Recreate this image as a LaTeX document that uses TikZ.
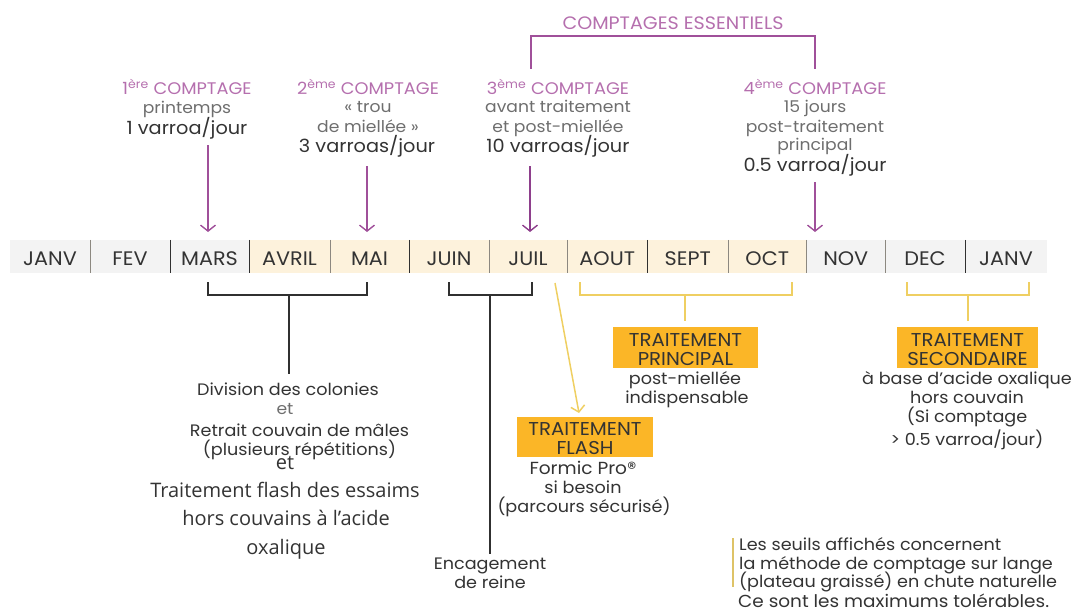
\documentclass[tikz,border=0pt]{standalone}
\usepackage{fontspec}
\setmainfont[FakeStretch=1.06]{Poppins}
\newfontfamily\altf{Open Sans}
\definecolor{purp}{HTML}{A0509A}
\definecolor{purpd}{HTML}{8E3F8C}
\definecolor{purptxt}{HTML}{B56FAE}
\definecolor{greytxt}{HTML}{6E6E6E}
\definecolor{darktxt}{HTML}{333333}
\definecolor{bandgrey}{HTML}{F3F3F3}
\definecolor{bandcream}{HTML}{FDF2DC}
\definecolor{orangebox}{HTML}{FBB627}
\definecolor{yell}{HTML}{EFCF62}
\definecolor{sepdark}{HTML}{303030}
\definecolor{seplight}{HTML}{8C8880}
\newcommand{\fsz}[2]{\fontsize{#1}{#2}\selectfont}
\newcommand{\sups}[1]{\textsuperscript{#1}}
\newcommand{\lowr}{\rule{0pt}{17pt}}
\usetikzlibrary{arrows.meta}
\tikzset{
 x=1pt,y=-1pt,
 txt/.style={inner sep=0pt,anchor=base,align=center,text=darktxt,font=\fsz{16.6}{19}},
 head/.style={txt,text=purptxt,font=\fsz{16.8}{19}},
 sub/.style={txt,text=greytxt,font=\fsz{16.2}{19}},
 val/.style={txt,text=darktxt,font=\fsz{18.2}{19}},
 alt/.style={txt,font=\altf\fsz{20}{22}},
 month/.style={inner sep=0pt,minimum height=33pt,text height=18pt,text depth=0pt,text=darktxt,font=\fsz{19.6}{20}},
 greym/.style={month,fill=bandgrey},
 creamm/.style={month,fill=bandcream},
 box/.style={inner sep=0pt,fill=orangebox,text=darktxt,align=center,font=\fsz{18.6}{19}},
 seplt/.style={seplight,line width=1.2pt},
 sepdk/.style={sepdark,line width=1.4pt},
 parrow/.style={purp,line width=1.4pt,-{Straight Barb[length=6pt,width=15pt,line width=1.4pt]}},
 blk/.style={sepdark,line width=1.7pt},
 yl/.style={yell,line width=1.5pt},
}
\begin{document}
\begin{tikzpicture}
\useasboundingbox (0,0) rectangle (1072,610);
% months
\foreach \nm/\lab/\xa/\xb/\st in {
 m1/JANV/10/90/greym,m2/FEV/90/170/greym,m3/MARS/170/249/greym,
 m4/AVRIL/249/330/creamm,m5/MAI/330/409/creamm,m6/JUIN/409/489/creamm,m7/JUIL/489/567/creamm,
 m8/AOUT/567/647.5/creamm,m9/SEPT/647.5/728/creamm,m10/OCT/728/806.5/creamm,
 m11/NOV/806.5/885/greym,m12/DEC/885/965/greym,m13/JANV/965/1047/greym}{
 \pgfmathsetmacro{\cx}{(\xa+\xb)/2}
 \pgfmathsetmacro{\bw}{\xb-\xa}
 \node[\st,minimum width=\bw pt] (\nm) at (\cx,256.5) {\lab};
}
\foreach \a/\s in {m1/seplt,m2/sepdk,m3/sepdk,m4/seplt,m5/sepdk,m6/seplt,m7/seplt,m8/sepdk,m9/seplt,m10/seplt,m11/seplt,m12/sepdk}{
 \draw[\s] (\a.north east) -- (\a.south east);
}
% counts
\node[head] (h1) at (187,95) {1\sups{ère} COMPTAGE};
\node[sub] (s1) at (187,113.5) {printemps};
\node[val] (v1) at (187,134) {1 varroa/jour};
\node[head] (h2) at (368,95) {2\sups{ème} COMPTAGE};
\node[sub] (s2) at (368,112.5) {« trou};
\node[sub] (s2b) at (368,132) {de miellée »};
\node[val] (v2) at (367,153) {3 varroas/jour};
\node[head] (h3) at (558,95) {3\sups{ème} COMPTAGE};
\node[sub] (s3) at (558,113) {avant traitement};
\node[sub] (s3b) at (558,132) {et post-miellée};
\node[val] (v3) at (558,153) {10 varroas/jour};
\node[head] (h4) at (815,95) {4\sups{ème} COMPTAGE};
\node[sub] (s4) at (815,112.5) {15 jours};
\node[sub] (s4b) at (815,132) {post-traitement};
\node[sub] (s4c) at (815,150) {principal};
\node[val] (v4) at (815,171) {0.5 varroa/jour};
\node[head,font=\fsz{18}{19}] (ess) at (673,29.5) {COMPTAGES ESSENTIELS};
% purple arrows
\coordinate (a1) at (208,145); \coordinate (a1e) at (208,232);
\coordinate (a2) at (367,166); \coordinate (a2e) at (367,232);
\coordinate (a3) at (530,166); \coordinate (a3e) at (530,232);
\coordinate (a4) at (815,182); \coordinate (a4e) at (815,232);
\draw[parrow] (a1) -- (a1e);
\draw[parrow] (a2) -- (a2e);
\draw[parrow,line width=2pt,purpd] (a3) -- (a3e);
\draw[parrow] (a4) -- (a4e);
% top bracket
\coordinate (t1) at (531,69); \coordinate (t2) at (815,69);
\coordinate (t1u) at (531,36); \coordinate (t2u) at (815,36);
\draw[purp,line width=1.6pt] (t1) -- (t1u) -- (t2u) -- (t2);
% black brackets
\coordinate (b1a) at (208,282); \coordinate (b1b) at (367,282);
\coordinate (b1c) at (208,295); \coordinate (b1d) at (367,295);
\coordinate (b1t) at (289,295); \coordinate (b1s) at (289,374);
\draw[blk] (b1a) -- (b1c) -- (b1d) -- (b1b);
\draw[blk] (b1t) -- (b1s);
\coordinate (b2a) at (449,282); \coordinate (b2b) at (532,282);
\coordinate (b2c) at (449,295); \coordinate (b2d) at (532,295);
\coordinate (b2t) at (490,295); \coordinate (b2s) at (490,554);
\draw[blk] (b2a) -- (b2c) -- (b2d) -- (b2b);
\draw[blk] (b2t) -- (b2s);
% yellow brackets
\coordinate (y1a) at (580,282); \coordinate (y1b) at (792,282);
\coordinate (y1c) at (580,295); \coordinate (y1d) at (792,295);
\coordinate (y1t) at (685,295); \coordinate (y1s) at (685,321);
\draw[yl] (y1a) -- (y1c) -- (y1d) -- (y1b);
\draw[yl] (y1t) -- (y1s);
\coordinate (y2a) at (907,282); \coordinate (y2b) at (1029,282);
\coordinate (y2c) at (907,295); \coordinate (y2d) at (1029,295);
\coordinate (y2t) at (968,295); \coordinate (y2s) at (968,321);
\draw[yl] (y2a) -- (y2c) -- (y2d) -- (y2b);
\draw[yl] (y2t) -- (y2s);
\coordinate (y3a) at (555,283); \coordinate (y3b) at (579,413);
\draw[yell,line width=1.5pt,-{Straight Barb[length=6pt,width=14pt,line width=1.5pt]}] (y3a) -- (y3b);
% left column
\node[txt] (d1) at (288,395) {Division des colonies};
\node[sub] (d2) at (285,414) {et};
\node[txt] (d3) at (299.5,436) {Retrait couvain de mâles};
\node[txt] (d4) at (299.5,455) {(plusieurs répétitions)};
\node[alt] (d5) at (285,469) {et};
\node[alt] (d6) at (285,497) {Traitement flash des essaims};
\node[alt] (d7) at (286,525) {hors couvains à l’acide};
\node[alt] (d8) at (286,554) {oxalique};
\node[txt] (e1) at (490,569) {Encagement};
\node[txt] (e2) at (490,588) {de reine};
% treatment boxes
\node[box,minimum width=136pt,minimum height=40pt] (fb) at (585,437) {\lowr TRAITEMENT\\FLASH};
\node[txt,font=\fsz{17.5}{19}] (f1) at (583,474) {Formic Pro®};
\node[txt] (f2) at (583,493) {si besoin};
\node[txt] (f3) at (584,512) {(parcours sécurisé)};
\node[box,minimum width=145pt,minimum height=41pt] (pb) at (685.5,347.5) {\lowr TRAITEMENT\\PRINCIPAL};
\node[txt] (p1) at (685,384) {post-miellée};
\node[txt] (p2) at (687,403) {indispensable};
\node[box,minimum width=141pt,minimum height=41pt] (sb) at (967.5,347.5) {\lowr TRAITEMENT\\SECONDAIRE};
\node[txt] (q1) at (967,384) {à base d'acide oxalique};
\node[txt] (q2) at (967,403) {hors couvain};
\node[txt] (q3) at (967,422) {(Si comptage};
\node[txt] (q4) at (967,445) {> 0.5 varroa/jour)};
% note
\coordinate (n1) at (733,538); \coordinate (n2) at (733,587);
\draw[yell!85!gray,line width=1.6pt] (n1) -- (n2);
\node[txt,anchor=base west] (l1) at (739,550) {Les seuils affichés concernent};
\node[txt,anchor=base west] (l2) at (739,569) {la méthode de comptage sur lange};
\node[txt,anchor=base west] (l3) at (739,587) {(plateau graissé) en chute naturelle};
\node[txt,anchor=base west,font=\fsz{17.4}{19}] (l4) at (738,607.5) {Ce sont les maximums tolérables.};
\end{tikzpicture}
\end{document}
